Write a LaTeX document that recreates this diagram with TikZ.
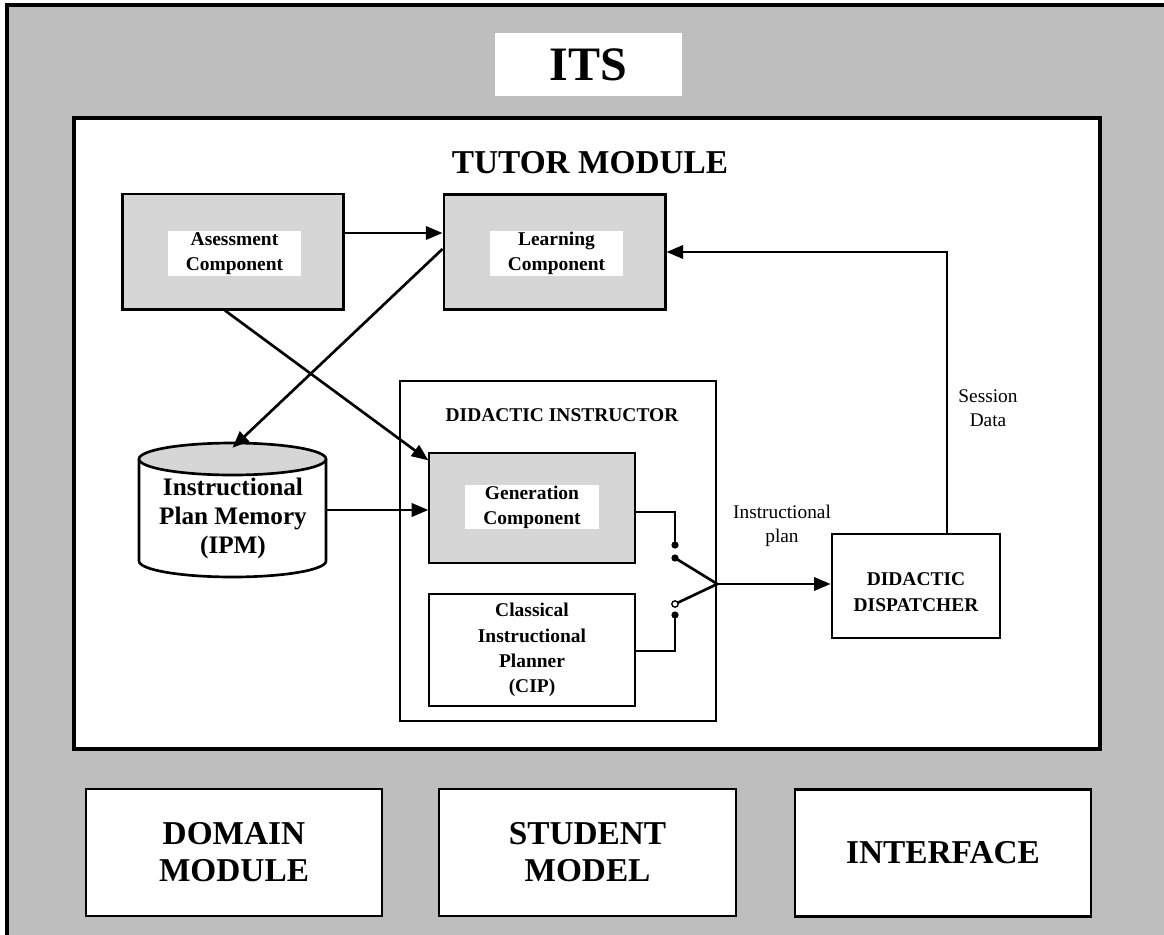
\documentclass[tikz,border=0pt]{standalone}
\usepackage{fontspec}
\setmainfont{Liberation Serif}
\usetikzlibrary{arrows.meta}
\definecolor{hatch}{RGB}{190,190,190}
\definecolor{dotfill}{RGB}{214,214,214}
\begin{document}
\begin{tikzpicture}[x=0.75pt,y=-0.75pt,
  frame/.style={draw=black, line width=2.4pt},
  compbox/.style={rectangle, draw=black, line width=2pt, fill=dotfill, inner sep=0pt, minimum width=166pt, minimum height=86.5pt},
  lblbox/.style={rectangle, fill=white, inner sep=0pt, minimum width=99.5pt, minimum height=33.5pt, align=center, font=\fontsize{14.6}{18.75}\selectfont\bfseries},
  subbox/.style={rectangle, draw=black, line width=1pt, inner sep=0pt, minimum width=154.5pt, align=center, font=\fontsize{14.6}{19}\selectfont\bfseries},
  modbox/.style={rectangle, draw=black, line width=2.2pt, fill=white, inner sep=0pt, minimum height=95.25pt, align=center, font=\fontsize{25}{27.75}\selectfont\bfseries},
  boldtxt/.style={align=center, inner sep=0pt, font=\fontsize{14.6}{19.5}\selectfont\bfseries},
  plaintxt/.style={align=center, inner sep=0pt, font=\fontsize{14.5}{18}\selectfont},
  arr/.style={line width=2pt, -{Triangle[length=12.5pt,width=10pt]}},
  wire/.style={line width=2pt},
]
\useasboundingbox (0,0) rectangle (1164,935);
\clip (0,0) rectangle (1164,935);
% outer ITS frame
\fill[hatch] (7,5) rectangle (1180,950);
\draw[frame] (7,950) -- (7,5) -- (1180,5);
\node[fill=white, inner sep=0pt, minimum width=140.25pt, minimum height=47.25pt, font=\fontsize{36}{40}\selectfont\bfseries] (its) at (588.5,64.5) {ITS};
% tutor module
\node[frame, fill=white, inner sep=0pt, minimum width=769.5pt, minimum height=473.25pt] (tutor) at (587,433.5) {};
\node[inner sep=0pt, font=\fontsize{25}{28}\selectfont\bfseries] (tutortitle) at (590,162.5) {TUTOR MODULE};
% components
\node[compbox] (asess) at (233,251.5) {};
\node[lblbox] (asesslbl) at (234.5,253.5) {Asessment\\Component};
\node[compbox] (learn) at (554.5,252) {};
\node[lblbox] (learnlbl) at (556.5,253.5) {Learning\\Component};
% didactic instructor
\node[rectangle, draw=black, line width=2pt, fill=white, inner sep=0pt, minimum width=237pt, minimum height=255pt] (instr) at (558,551) {};
\node[boldtxt] (instrtitle) at (562,415.5) {DIDACTIC INSTRUCTOR};
\node[subbox, fill=dotfill, minimum height=82.5pt] (gen) at (532,508) {};
\node[lblbox, minimum width=100.5pt, minimum height=33pt] (genlbl) at (532,507) {Generation\\Component};
\node[subbox, fill=white, minimum height=84pt] (cip) at (532,650) {Classical\\Instructional\\Planner\\(CIP)};
% IPM cylinder
\node[rectangle, inner sep=0pt, minimum width=140.25pt, minimum height=100.5pt] (ipm) at (232.5,510) {};
\filldraw[line width=2pt, fill=white] (139,459) -- (139,561) arc[start angle=180, end angle=360, x radius=70.125pt, y radius=12pt] -- (326,459);
\filldraw[line width=2pt, fill=dotfill] (232.5,459) ellipse[x radius=70.125pt, y radius=12pt];
\node[align=center, inner sep=0pt, font=\fontsize{18.9}{21.75}\selectfont\bfseries] (ipmlbl) at (233,518.75) {Instructional\\Plan Memory\\(IPM)};
% didactic dispatcher
\node[rectangle, draw=black, line width=2pt, fill=white, inner sep=0pt, minimum width=126pt, minimum height=78pt] (disp) at (916,586) {};
\node[boldtxt] (displbl) at (916,592.5) {DIDACTIC\\DISPATCHER};
% texts
\node[plaintxt] (sess) at (988,408.5) {Session\\Data};
\node[plaintxt] (iplan) at (782,525.5) {Instructional\\plan};
% switch coordinates
\coordinate (j) at (instr.east |- 0,584);
\coordinate (d1) at (675,545);
\coordinate (d2) at (675,558);
\coordinate (o1) at (675,604);
\coordinate (d3) at (675,615);
% connectors
\draw[arr] (asess.east |- 0,233) -- (learn.west |- 0,233);
\draw[arr] (learn.west |- 0,249) -- ([yshift=-3.75pt]ipm.north);
\draw[arr] ([xshift=-6pt]asess.south) -- ([yshift=-6pt]gen.north west);
\draw[arr] (ipm.east) -- (ipm.east -| gen.west);
\draw[wire] (gen.east |- 0,512) -| (d1);
\draw[wire] (d2) -- (j);
\draw[wire] (o1) -- (j);
\draw[wire] (cip.east |- 0,651) -| (d3);
\fill (d1) circle[radius=2.7pt];
\fill (d2) circle[radius=2.7pt];
\fill (d3) circle[radius=2.7pt];
\filldraw[fill=white, line width=1pt] (o1) circle[radius=2.4pt];
\draw[arr] (j) -- (j -| disp.west);
\draw[arr] ([xshift=23.25pt]disp.north) |- (learn.east);
% bottom modules
\node[modbox, minimum width=222pt] (domain) at (234,852.5) {DOMAIN\\MODULE};
\node[modbox, minimum width=222.75pt] (student) at (587.5,852.5) {STUDENT\\MODEL};
\node[modbox, minimum width=222pt] (interface) at (943,853) {INTERFACE};
\end{tikzpicture}
\end{document}
